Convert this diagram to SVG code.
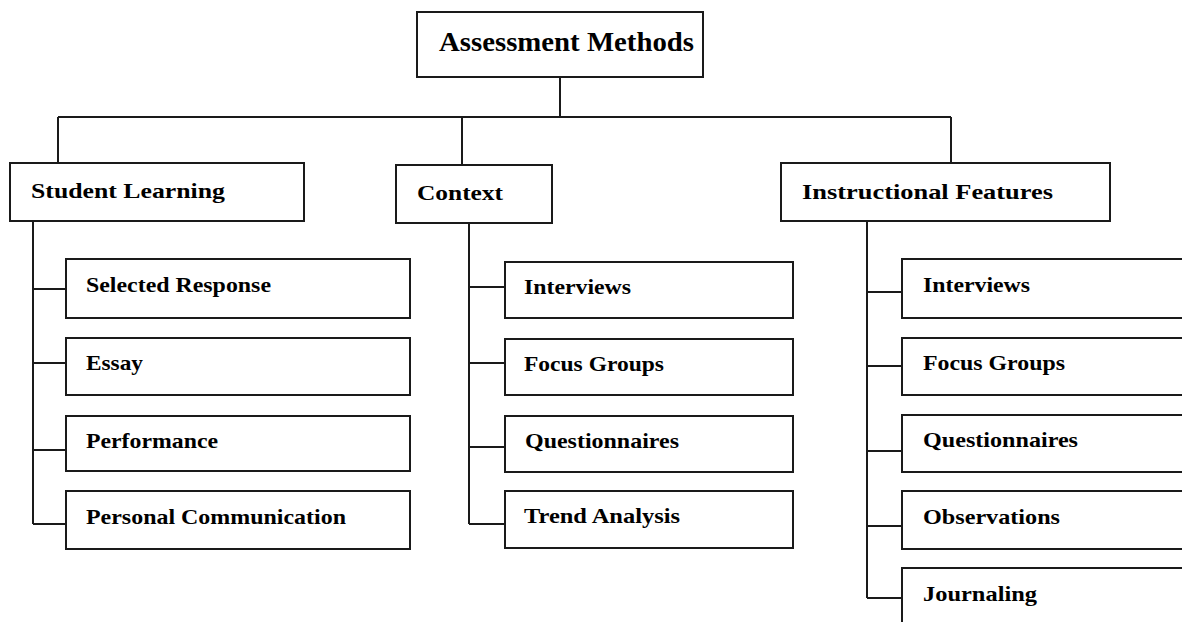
<svg xmlns="http://www.w3.org/2000/svg" width="1182" height="622" viewBox="0 0 1182 622">
<style>
.box{fill:#fff;stroke:#1a1a1a;stroke-width:2}
.ln{fill:none;stroke:#1a1a1a;stroke-width:2}
text{font-family:"Liberation Serif","Times New Roman",serif;font-weight:bold;fill:#000;font-size:21px}
.root{font-size:27px}
</style>
<rect width="1182" height="622" fill="#fff"/>
<g id="connectors">
<path class="ln" d="M560,77V117M58,117H951M58,117V163M462,117V165M951,117V163"/>
<path class="ln" d="M33,221V524M33,289H66M33,363H66M33,450H66M33,524H66"/>
<path class="ln" d="M469,223V524M469,287H505M469,363H505M469,447H505M469,524H505"/>
<path class="ln" d="M867,221V598M867,292H902M867,366H902M867,451H902M867,526H902M867,598H902"/>
</g>
<g id="root"><rect class="box" x="417" y="12" width="286" height="65"/><text class="root" x="439" y="51" textLength="255" lengthAdjust="spacingAndGlyphs">Assessment Methods</text></g>
<g id="student-learning"><rect class="box" x="10" y="163" width="294" height="58"/><text x="31" y="198" textLength="194" lengthAdjust="spacingAndGlyphs">Student Learning</text></g>
<g id="context"><rect class="box" x="396" y="165" width="156" height="58"/><text x="417" y="200" textLength="86" lengthAdjust="spacingAndGlyphs">Context</text></g>
<g id="instructional-features"><rect class="box" x="781" y="163" width="329" height="58"/><text x="802" y="199" textLength="251" lengthAdjust="spacingAndGlyphs">Instructional Features</text></g>

<g id="sl-selected-response"><rect class="box" x="66" y="259" width="344" height="59"/><text x="86" y="292" textLength="185" lengthAdjust="spacingAndGlyphs">Selected Response</text></g>
<g id="sl-essay"><rect class="box" x="66" y="338" width="344" height="57"/><text x="86" y="370" textLength="57" lengthAdjust="spacingAndGlyphs">Essay</text></g>
<g id="sl-performance"><rect class="box" x="66" y="416" width="344" height="55"/><text x="86" y="448" textLength="132" lengthAdjust="spacingAndGlyphs">Performance</text></g>
<g id="sl-personal-communication"><rect class="box" x="66" y="491" width="344" height="58"/><text x="86" y="524" textLength="260" lengthAdjust="spacingAndGlyphs">Personal Communication</text></g>

<g id="ctx-interviews"><rect class="box" x="505" y="262" width="288" height="56"/><text x="524" y="294" textLength="107" lengthAdjust="spacingAndGlyphs">Interviews</text></g>
<g id="ctx-focus-groups"><rect class="box" x="505" y="339" width="288" height="56"/><text x="524" y="371" textLength="140" lengthAdjust="spacingAndGlyphs">Focus Groups</text></g>
<g id="ctx-questionnaires"><rect class="box" x="505" y="416" width="288" height="56"/><text x="525" y="448" textLength="154" lengthAdjust="spacingAndGlyphs">Questionnaires</text></g>
<g id="ctx-trend-analysis"><rect class="box" x="505" y="491" width="288" height="57"/><text x="524" y="523" textLength="156" lengthAdjust="spacingAndGlyphs">Trend Analysis</text></g>

<g id="if-interviews"><rect class="box" x="902" y="259" width="290" height="59"/><text x="923" y="292" textLength="107" lengthAdjust="spacingAndGlyphs">Interviews</text></g>
<g id="if-focus-groups"><rect class="box" x="902" y="338" width="290" height="57"/><text x="923" y="370" textLength="142" lengthAdjust="spacingAndGlyphs">Focus Groups</text></g>
<g id="if-questionnaires"><rect class="box" x="902" y="415" width="290" height="57"/><text x="923" y="447" textLength="155" lengthAdjust="spacingAndGlyphs">Questionnaires</text></g>
<g id="if-observations"><rect class="box" x="902" y="491" width="290" height="58"/><text x="923" y="524" textLength="137" lengthAdjust="spacingAndGlyphs">Observations</text></g>
<g id="if-journaling"><rect class="box" x="902" y="568" width="290" height="64"/><text x="923" y="601" textLength="114" lengthAdjust="spacingAndGlyphs">Journaling</text></g>
</svg>
